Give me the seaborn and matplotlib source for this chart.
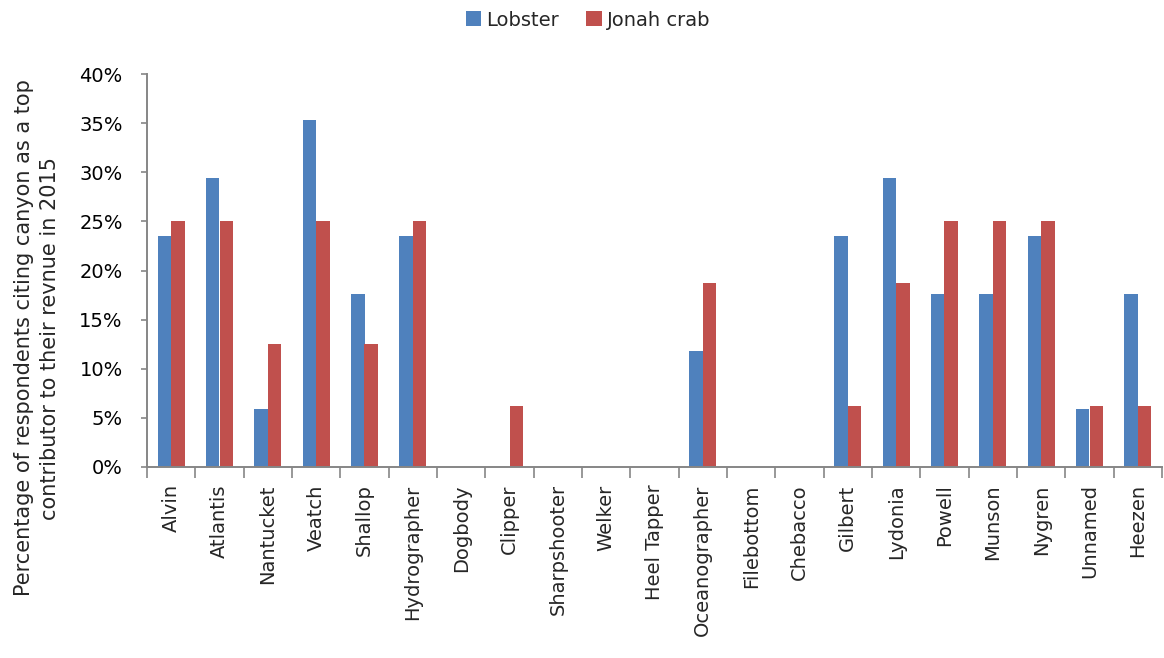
import matplotlib
matplotlib.use("Agg")
import matplotlib.pyplot as plt
from matplotlib.ticker import PercentFormatter, FixedLocator, NullFormatter
import seaborn as sns
import pandas as pd

canyons = ["Alvin", "Atlantis", "Nantucket", "Veatch", "Shallop", "Hydrographer",
           "Dogbody", "Clipper", "Sharpshooter", "Welker", "Heel Tapper",
           "Oceanographer", "Filebottom", "Chebacco", "Gilbert", "Lydonia",
           "Powell", "Munson", "Nygren", "Unnamed", "Heezen"]
lobster = [23.53, 29.41, 5.88, 35.29, 17.65, 23.53, 0, 0, 0, 0, 0,
           11.76, 0, 0, 23.53, 29.41, 17.65, 17.65, 23.53, 5.88, 17.65]
jonah_crab = [25.0, 25.0, 12.5, 25.0, 12.5, 25.0, 0, 6.25, 0, 0, 0,
              18.75, 0, 0, 6.25, 18.75, 25.0, 25.0, 25.0, 6.25, 6.25]
series = ["Lobster", "Jonah crab"]
colors = ["#4F81BD", "#C0504D"]

df = pd.DataFrame({
    "canyon": canyons * 2,
    "species": [series[0]] * len(canyons) + [series[1]] * len(canyons),
    "pct": lobster + jonah_crab,
})

sns.set_style("white")
plt.rcParams["font.family"] = ["DejaVu Sans"]

W, H = 1164, 658
fig = plt.figure(figsize=(W / 100, H / 100), dpi=100)
ax = fig.add_axes([147 / W, 1 - 467 / H, (1162 - 147) / W, (467 - 74) / H])

sns.barplot(data=df, x="canyon", y="pct", hue="species", order=canyons,
            hue_order=series, palette=colors, width=0.56, saturation=1,
            edgecolor="none", ax=ax)

ax.set_xlim(-0.5, len(canyons) - 0.5)
ax.set_ylim(0, 40)
ax.set_yticks(range(0, 41, 5))
ax.yaxis.set_major_formatter(PercentFormatter(decimals=0))
ax.tick_params(axis="y", which="major", length=4.5, width=1.2, color="#868686",
               labelsize=14, labelcolor="black", pad=13, left=True)

# category labels without marks, separator ticks between categories
ax.set_xticks(range(len(canyons)))
ax.set_xticklabels(canyons, rotation=90, fontsize=14)
ax.tick_params(axis="x", which="major", length=0, pad=12.5)
ax.xaxis.set_minor_locator(FixedLocator([i - 0.5 for i in range(len(canyons) + 1)]))
ax.xaxis.set_minor_formatter(NullFormatter())
ax.tick_params(axis="x", which="minor", length=8, width=1.2, color="#868686", bottom=True)

for side in ["top", "right"]:
    ax.spines[side].set_visible(False)
for side in ["left", "bottom"]:
    ax.spines[side].set_color("#868686")
    ax.spines[side].set_linewidth(1.4)

ax.set_xlabel("")
ax.set_ylabel("Percentage of respondents citing canyon as a top\ncontributor to their revnue in 2015",
              fontsize=15, linespacing=1.35)
ax.yaxis.set_label_coords((60 - 147) / 1015, (467 - 338) / 393)

handles, labels = ax.get_legend_handles_labels()
ax.get_legend().remove()
fig.legend(handles, labels, loc="center", bbox_to_anchor=(588 / W, 1 - 20 / H), ncol=2,
           frameon=False, fontsize=14, handlelength=0.8, handleheight=0.8,
           columnspacing=1.4, handletextpad=0.25)

fig.savefig("out.png", dpi=100)
